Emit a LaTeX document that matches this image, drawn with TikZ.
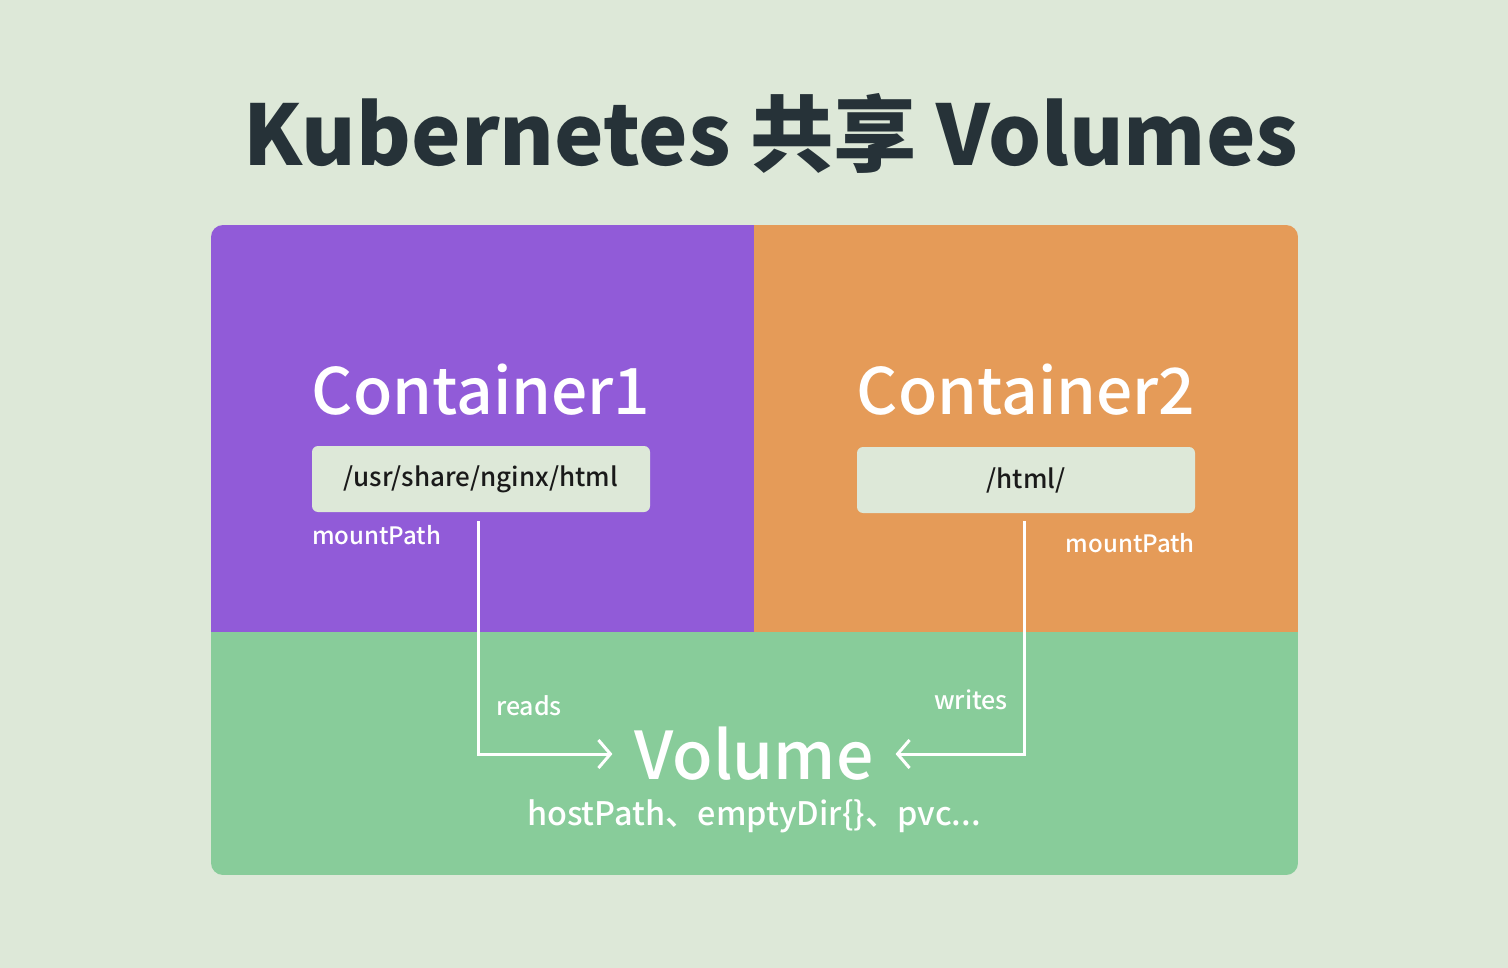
\documentclass[tikz,border=0pt]{standalone}
\usepackage{fontspec}
\setmainfont{Noto Sans CJK SC}
\newfontfamily\medfont[UprightFont={* Medium}]{Noto Sans CJK SC}
\usetikzlibrary{arrows.meta}
\definecolor{bgc}{HTML}{DDE8D8}
\definecolor{purp}{HTML}{915BD8}
\definecolor{oran}{HTML}{E59B58}
\definecolor{gree}{HTML}{88CC9A}
\definecolor{dark}{HTML}{263238}
\definecolor{pathtxt}{HTML}{1A1A1A}
\tikzset{
  pathbox/.style={fill=bgc, rounded corners=6pt, minimum width=338pt, minimum height=66pt, inner sep=0pt, text=pathtxt, font=\fontsize{26}{26}\selectfont\medfont},
  ctitle/.style={text=white, inner sep=0pt, font=\fontsize{64}{64}\selectfont\medfont},
  small/.style={text=white, inner sep=0pt, font=\fontsize{25}{25}\selectfont\medfont},
  conn/.style={draw=white, line width=3pt, -{Straight Barb[length=12pt,width=28pt,line width=3pt]}},
}
\begin{document}
\begin{tikzpicture}[x=1pt,y=-1pt]
\fill[bgc] (0,0) rectangle (1508,968);
\useasboundingbox (0,0) rectangle (1508,968);
% title
\node[text=dark, inner sep=0pt, font=\fontsize{83.5}{84}\selectfont\bfseries] (title) at (771,133) {Kubernetes 共享 Volumes};
% panels
\begin{scope}
\clip[rounded corners=12pt] (211,225) rectangle (1298,875);
\fill[purp] (211,225) rectangle (754,632);
\fill[oran] (754,225) rectangle (1298,632);
\fill[gree] (211,632) rectangle (1298,875);
\end{scope}
% container 1
\node[ctitle] (c1) at (481,390) {Container1};
\node[pathbox] (p1) at (481,479) {\raisebox{-4pt}{/usr/share/nginx/html}};
\node[small, anchor=west, font=\fontsize{24}{24}\selectfont\medfont] (m1) at (312,535) {mountPath};
% container 2
\node[ctitle] (c2) at (1026,390) {Container2};
\node[pathbox] (p2) at (1026,480) {\raisebox{-4pt}{/html/}};
\node[small, anchor=east, font=\fontsize{24}{24}\selectfont\medfont] (m2) at (1195,543) {mountPath};
% volume
\node[text=white, inner sep=0pt, font=\fontsize{66}{66}\selectfont\medfont] (vol) at (754,754) {Volume};
\node[text=white, inner sep=0pt, font=\fontsize{32.4}{33}\selectfont\medfont] (types) at (754,816) {hostPath、emptyDir\{\}、pvc...};
\node[small] (reads) at (529,706) {reads};
\node[small] (writes) at (971,700) {writes};
% connectors
\coordinate (r0) at (478,521);
\coordinate (w0) at (1024,521);
\draw[conn, shorten >=22pt] (r0) |- (vol.west);
\draw[conn, shorten >=22pt] (w0) |- (vol.east);
\end{tikzpicture}
\end{document}
